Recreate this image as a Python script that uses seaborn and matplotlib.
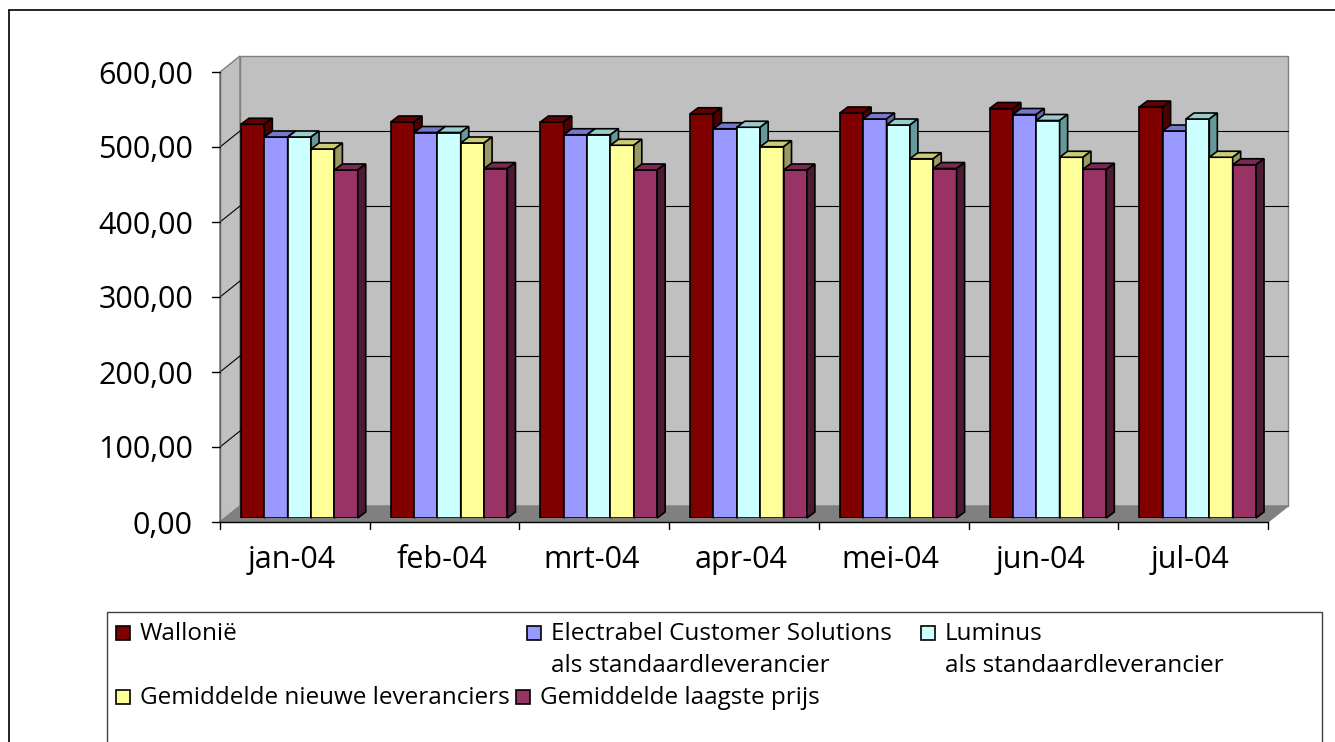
import numpy as np
import pandas as pd
import matplotlib
matplotlib.use("Agg")
import matplotlib.pyplot as plt
import matplotlib.colors as mcolors
import seaborn as sns
from matplotlib.patches import Polygon, Rectangle
from matplotlib.lines import Line2D
from matplotlib.transforms import IdentityTransform

# ---- data -------------------------------------------------------------
months = ["jan-04", "feb-04", "mrt-04", "apr-04", "mei-04", "jun-04", "jul-04"]
series = [
    "Wallonië",
    "Electrabel Customer Solutions\nals standaardleverancier",
    "Luminus\nals standaardleverancier",
    "Gemiddelde nieuwe leveranciers",
    "Gemiddelde laagste prijs",
]
wallonie = [525, 528, 528, 539, 540, 546, 548]
electrabel = [508, 514, 511, 519, 532, 538, 516]
luminus = [508, 514, 511, 521, 524, 530, 532]
gem_nieuw = [492, 500, 497, 495, 479, 481, 481]
gem_laagst = [464, 466, 464, 464, 466, 465, 471]
values = [wallonie, electrabel, luminus, gem_nieuw, gem_laagst]

yticks = [0, 100, 200, 300, 400, 500, 600]
ytick_labels = ["0,00", "100,00", "200,00", "300,00", "400,00", "500,00", "600,00"]

front_colors = ["#800000", "#9999FF", "#CCFFFF", "#FFFF99", "#993366"]
top_colors = ["#650000", "#7777CC", "#99CCCC", "#CCCC77", "#7A2952"]
side_colors = ["#4D0000", "#6666AA", "#669999", "#999966", "#4D1A33"]

df = pd.DataFrame(
    [(m, s, v[i]) for s, v in zip(series, values) for i, m in enumerate(months)],
    columns=["maand", "reeks", "prijs"],
)

# ---- style ------------------------------------------------------------
sns.set_style("white")
plt.rcParams["font.family"] = ["Open Sans", "DejaVu Sans"]

W, H = 1335, 742
fig = plt.figure(figsize=(W / 100, H / 100), dpi=100)
fig.patch.set_facecolor("white")

# plane of the bar fronts, in image pixels
x_left, x_right = 224.5, 1272.5
y_zero, y_top = 518, 68
ax = fig.add_axes([x_left / W, (H - y_zero) / H,
                   (x_right - x_left) / W, (y_zero - y_top) / H])

sns.barplot(data=df, x="maand", y="prijs", hue="reeks", order=months,
            hue_order=series, palette=front_colors, saturation=1,
            width=0.78, edgecolor="black", linewidth=1.2, legend=False, ax=ax)
ax.set_xlim(-0.5, len(months) - 0.5)
ax.set_ylim(0, 600)
ax.axis("off")

IDT = IdentityTransform()
FRONT = np.array([-4.5, -4.0])   # axis plane relative to bar fronts
BACK = np.array([15.5, 12.0])    # back wall relative to bar fronts
DEPTH = np.array([8.0, 6.0])     # bar depth


def P(x, y, off=(0.0, 0.0)):
    return ax.transData.transform((x, y)) + np.asarray(off)


x0, x1 = -0.5, len(months) - 0.5
wall_c, floor_c, edge_c = "#C0C0C0", "#808080", "#808080"

# walls and floor
ax.add_patch(Polygon([P(x0, 0, FRONT), P(x0, 600, FRONT), P(x0, 600, BACK), P(x0, 0, BACK)],
                     closed=True, fc=wall_c, ec=edge_c, lw=1, transform=IDT,
                     clip_on=False, zorder=0.2))
ax.add_patch(Polygon([P(x0, 0, BACK), P(x1, 0, BACK), P(x1, 600, BACK), P(x0, 600, BACK)],
                     closed=True, fc=wall_c, ec=edge_c, lw=1, transform=IDT,
                     clip_on=False, zorder=0.2))
ax.add_patch(Polygon([P(x0, 0, FRONT), P(x1, 0, FRONT), P(x1, 0, BACK), P(x0, 0, BACK)],
                     closed=True, fc=floor_c, ec=edge_c, lw=1, transform=IDT,
                     clip_on=False, zorder=0.3))

# gridlines on back and side wall
for v in yticks[1:-1]:
    a, b = P(x0, v, BACK), P(x1, v, BACK)
    ax.add_line(Line2D([a[0], b[0]], [a[1], b[1]], color="black", lw=0.8,
                       transform=IDT, clip_on=False, zorder=0.4))
    c = P(x0, v, FRONT)
    ax.add_line(Line2D([c[0], a[0]], [c[1], a[1]], color="black", lw=0.8,
                       transform=IDT, clip_on=False, zorder=0.4))

# value axis with ticks and labels
a, b = P(x0, 0, FRONT), P(x0, 600, FRONT)
ax.add_line(Line2D([a[0], b[0]], [a[1], b[1]], color="#606060", lw=1,
                   transform=IDT, clip_on=False, zorder=0.5))
for v, lab in zip(yticks, ytick_labels):
    p = P(x0, v, FRONT)
    ax.add_line(Line2D([p[0] - 8, p[0]], [p[1], p[1]], color="black", lw=1,
                       transform=IDT, clip_on=False, zorder=0.5))
    fig.text(p[0] - 27, p[1] - 11.5, lab, transform=IDT, ha="right",
             va="baseline", fontsize=22, color="black")

# category axis with ticks and labels
a, b = P(x0, 0, FRONT), P(x1, 0, FRONT)
ax.add_line(Line2D([a[0], b[0]], [a[1], b[1]], color="black", lw=1,
                   transform=IDT, clip_on=False, zorder=0.5))
for i in range(len(months) + 1):
    p = P(i - 0.5, 0, FRONT)
    ax.add_line(Line2D([p[0], p[0]], [p[1], p[1] - 7], color="black", lw=1,
                       transform=IDT, clip_on=False, zorder=0.5))
for i, m in enumerate(months):
    p = P(i, 0, FRONT)
    fig.text(p[0] - 3, H - 568, m, transform=IDT, ha="center",
             va="baseline", fontsize=22, color="black")

# 3-D faces of the bars (drawn left to right so fronts hide neighbours' sides)
hex_front = [c.lower() for c in front_colors]
bars = [p for p in ax.patches if isinstance(p, Rectangle) and p.get_width() > 0]
bars.sort(key=lambda p: p.get_x())
for k, p in enumerate(bars):
    idx = hex_front.index(mcolors.to_hex(p.get_facecolor()).lower())
    bx, bw, bh = p.get_x(), p.get_width(), p.get_height()
    z = 1 + 0.1 * k
    p.set_zorder(z)
    top = [P(bx, bh), P(bx + bw, bh), P(bx + bw, bh, DEPTH), P(bx, bh, DEPTH)]
    side = [P(bx + bw, 0), P(bx + bw, bh), P(bx + bw, bh, DEPTH), P(bx + bw, 0, DEPTH)]
    ax.add_patch(Polygon(top, closed=True, fc=top_colors[idx], ec="black", lw=1.2,
                         joinstyle="miter", transform=IDT, clip_on=False, zorder=z + 0.05))
    ax.add_patch(Polygon(side, closed=True, fc=side_colors[idx], ec="black", lw=1.2,
                         joinstyle="miter", transform=IDT, clip_on=False, zorder=z + 0.05))

# chart frame
fig.add_artist(Line2D([9, 9], [H - 10, -5], color="black", lw=1.2, transform=IDT))
fig.add_artist(Line2D([9, W + 5], [H - 10, H - 10], color="black", lw=1.2, transform=IDT))

# legend box and entries
fig.add_artist(Rectangle((107, -5), 1322 - 107, H - 612 + 5, fill=False,
                         ec="#404040", lw=1, transform=IDT))
legend_slots = [(116, 640), (527, 640), (921, 640), (116, 704), (516, 704)]
for (mx, base), name, col in zip(legend_slots, series, front_colors):
    fig.add_artist(Rectangle((mx, H - base), 14, 14, fc=col, ec="black", lw=1.2,
                             transform=IDT))
    for j, line in enumerate(name.split("\n")):
        fig.text(mx + 24, H - base - 32 * j, line, transform=IDT, ha="left",
                 va="baseline", fontsize=17.5, color="black")

fig.savefig("out.png", dpi=100)
